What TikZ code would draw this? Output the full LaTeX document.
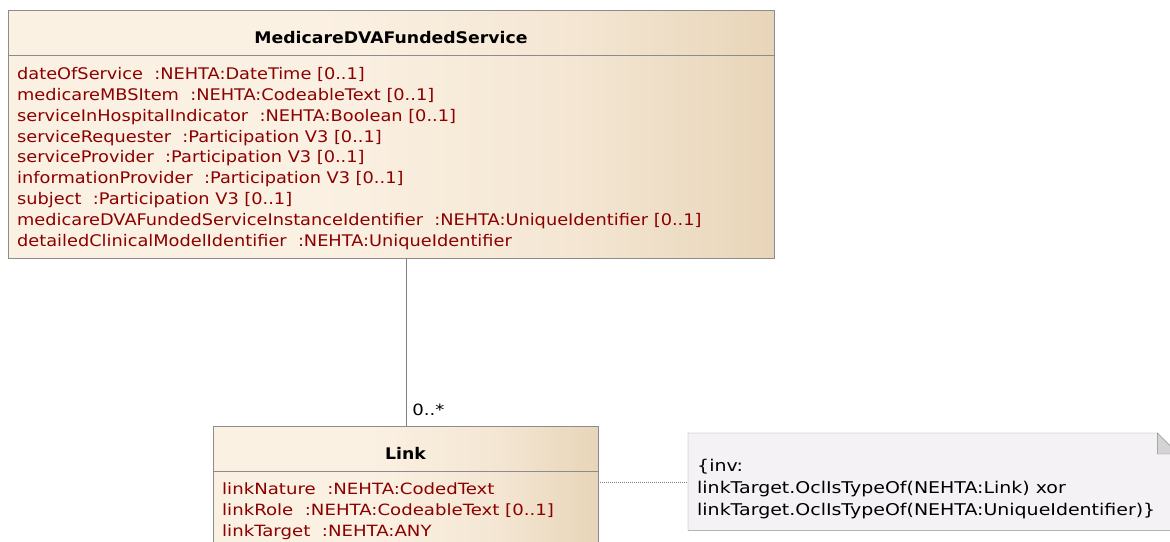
\documentclass[tikz,border=0pt]{standalone}
\usepackage{fontspec}
\setmainfont{DejaVu Sans}
\newfontfamily\attrfont[FakeStretch=1.11]{DejaVu Sans}
\newfontfamily\widefont[FakeStretch=1.17]{DejaVu Sans}
\newfontfamily\titlefont[FakeStretch=1.08]{DejaVu Sans}
\usetikzlibrary{positioning, calc}
\definecolor{umlattr}{HTML}{8B0000}
\definecolor{umlfilllight}{HTML}{FBF1E3}
\definecolor{umlfillmid}{HTML}{F4E6D3}
\definecolor{umlfilldark}{HTML}{E8D5B9}
\definecolor{umlborder}{HTML}{8C8C8C}
\definecolor{umlnote}{HTML}{F5F2F5}
\definecolor{umlfold}{HTML}{D4D4D4}
\pgfdeclarehorizontalshading{classfill}{100bp}{color(0bp)=(umlfilllight); color(25bp)=(umlfilllight); color(45bp)=(umlfilllight); color(62bp)=(umlfillmid); color(75bp)=(umlfilldark); color(100bp)=(umlfilldark)}

\begin{document}
\begin{tikzpicture}[
  x=1pt, y=-1pt,
  classbox/.style={draw=umlborder, shading=classfill, anchor=north west, inner sep=0pt},
  classtitle/.style={anchor=base, inner sep=0pt, font=\titlefont\fontsize{16}{19}\selectfont\bfseries},
  attrs/.style={align=left, anchor=north west, inner sep=0pt, text=umlattr},
  notebox/.style={anchor=north west, inner sep=0pt, minimum width=490pt, minimum height=97pt},
  sepline/.style={draw=umlborder},
  assoc/.style={draw=gray},
  noteline/.style={draw=gray, dash pattern=on 1pt off 1pt}
]
\useasboundingbox (0,0) rectangle (1170,541);
\clip (0,0) rectangle (1170,541);

% class MedicareDVAFundedService
\node[classbox, minimum width=766pt, minimum height=248pt] (svc) at (8,10) {};
\node[classtitle] (svctitle) at (391,43) {MedicareDVAFundedService};
\draw[sepline] (svc.west |- 0,55) -- (svc.east |- 0,55);
\node[attrs, font=\attrfont\fontsize{16}{20.9}\selectfont] (svcattrs) at (17,67) {dateOfService\ \ :NEHTA:DateTime [0..1]\\
medicareMBSItem\ \ :NEHTA:CodeableText [0..1]\\
serviceInHospitalIndicator\ \ :NEHTA:Boolean [0..1]\\
serviceRequester\ \ :Participation V3 [0..1]\\
serviceProvider\ \ :Participation V3 [0..1]\\
informationProvider\ \ :Participation V3 [0..1]\\
subject\ \ :Participation V3 [0..1]\\
medicareDVAFundedServiceInstanceIdentifier\ \ :NEHTA:UniqueIdentifier [0..1]\\
detailedClinicalModelIdentifier\ \ :NEHTA:UniqueIdentifier};

% class Link
\node[classbox, minimum width=385pt, minimum height=160pt] (link) at (213,426) {};
\node[classtitle] (linktitle) at (405.5,459) {Link};
\draw[sepline] (link.west |- 0,471) -- (link.east |- 0,471);
\node[attrs, font=\widefont\fontsize{15.5}{20.7}\selectfont] (linkattrs) at (222,483) {linkNature\ \ :NEHTA:CodedText\\
linkRole\ \ :NEHTA:CodeableText [0..1]\\
linkTarget\ \ :NEHTA:ANY};

% association
\draw[assoc] (link.north) -- (link.north |- svc.south);
\node[anchor=base west, inner sep=0pt, font=\widefont\fontsize{15.5}{18}\selectfont] (mult) at ($(link.north)+(6.5,-11)$) {0..*};

% constraint note
\node[notebox] (note) at (688,433) {};
\draw[draw=umlborder, fill=umlnote] (note.north west) -- ($(note.north east)+(-21,0)$) -- ($(note.north east)+(0,21)$) -- (note.south east) -- (note.south west) -- cycle;
\filldraw[draw=umlborder, fill=umlfold] ($(note.north east)+(-21,0)$) -- ($(note.north east)+(-21,21)$) -- ($(note.north east)+(0,21)$) -- cycle;
\node[anchor=north west, align=left, inner sep=0pt, font=\widefont\fontsize{16.2}{22}\selectfont] (notetext) at (697,459) {\{inv:\\
linkTarget.OclIsTypeOf(NEHTA:Link) xor\\
linkTarget.OclIsTypeOf(NEHTA:UniqueIdentifier)\}};
\draw[noteline] (link.east |- note.west) -- (note.west);
\end{tikzpicture}
\end{document}
